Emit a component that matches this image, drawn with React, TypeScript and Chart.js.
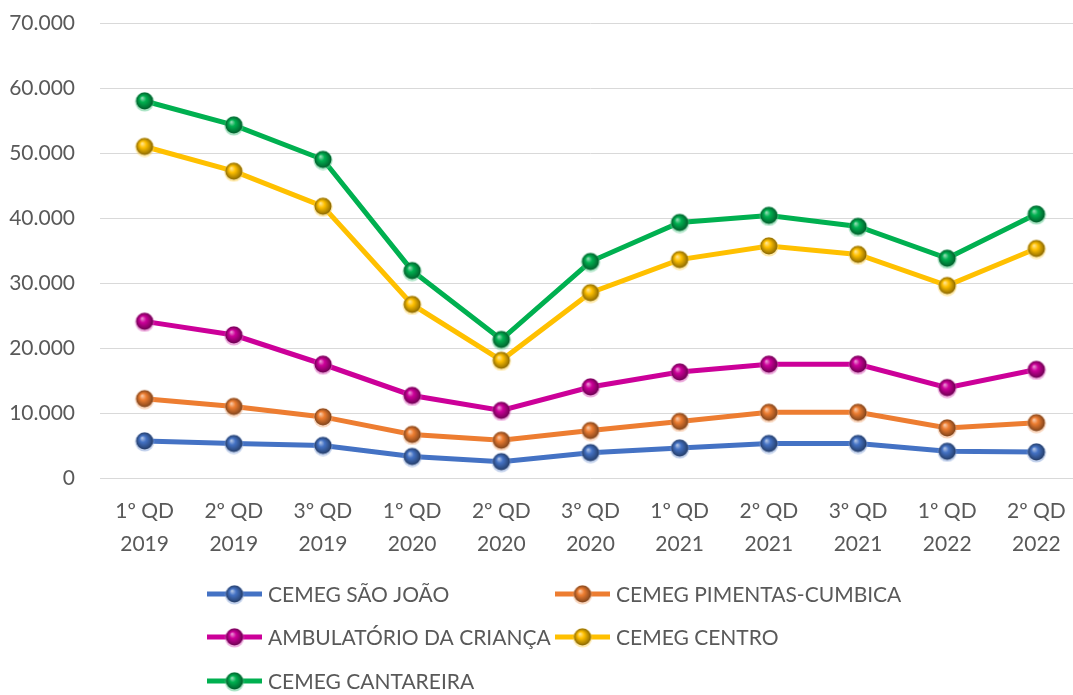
import React, { useEffect, useRef } from "react";
import { Chart, registerables } from "chart.js";

Chart.register(...registerables);

const categories: string[][] = [
  ["1º QD", "2019"], ["2º QD", "2019"], ["3º QD", "2019"],
  ["1º QD", "2020"], ["2º QD", "2020"], ["3º QD", "2020"],
  ["1º QD", "2021"], ["2º QD", "2021"], ["3º QD", "2021"],
  ["1º QD", "2022"], ["2º QD", "2022"],
];

const saoJoao = [5700, 5300, 5000, 3300, 2500, 3900, 4600, 5300, 5300, 4100, 4000];
const pimentas = [12200, 11000, 9400, 6700, 5800, 7300, 8700, 10100, 10100, 7700, 8500];
const ambulatorio = [24100, 22000, 17500, 12700, 10400, 14000, 16300, 17500, 17500, 13900, 16700];
const centro = [51000, 47200, 41800, 26700, 18100, 28500, 33600, 35700, 34400, 29600, 35300];
const cantareira = [58000, 54300, 49000, 31900, 21300, 33300, 39300, 40400, 38700, 33800, 40600];

const seriesNames = [
  "CEMEG SÃO JOÃO",
  "CEMEG PIMENTAS-CUMBICA",
  "AMBULATÓRIO DA CRIANÇA",
  "CEMEG CENTRO",
  "CEMEG CANTAREIRA",
];
const seriesColors = ["#4472C4", "#ED7D31", "#CC0099", "#FFC000", "#00B050"];
const seriesData = [saoJoao, pimentas, ambulatorio, centro, cantareira];

const yTicks = [0, 10000, 20000, 30000, 40000, 50000, 60000, 70000];

const FONT = "Lato, 'Open Sans', sans-serif";
const TEXT = "#595959";

function shade(hex: string, f: number): string {
  const n = parseInt(hex.slice(1), 16);
  let r = (n >> 16) & 255, g = (n >> 8) & 255, b = n & 255;
  if (f >= 0) {
    r = Math.round(r + (255 - r) * f); g = Math.round(g + (255 - g) * f); b = Math.round(b + (255 - b) * f);
  } else {
    r = Math.round(r * (1 + f)); g = Math.round(g * (1 + f)); b = Math.round(b * (1 + f));
  }
  return `rgb(${r},${g},${b})`;
}

function makeBall(color: string): HTMLCanvasElement {
  const c = document.createElement("canvas");
  c.width = 22; c.height = 22;
  const g = c.getContext("2d")!;
  const cx = 11, cy = 11, r = 8.5;
  g.beginPath();
  g.arc(cx, cy + 0.8, r + 1.2, 0, Math.PI * 2);
  g.fillStyle = shade(color, 0.35);
  g.globalAlpha = 0.5;
  g.fill();
  g.globalAlpha = 1;
  const grad = g.createRadialGradient(cx - 2.5, cy - 3, 0.5, cx, cy, r);
  grad.addColorStop(0, shade(color, 0.55));
  grad.addColorStop(0.35, color);
  grad.addColorStop(0.85, shade(color, -0.35));
  grad.addColorStop(1, shade(color, -0.5));
  g.beginPath();
  g.arc(cx, cy, r, 0, Math.PI * 2);
  g.fillStyle = grad;
  g.fill();
  return c;
}

export default function App() {
  const ref = useRef<HTMLCanvasElement>(null);

  useEffect(() => {
    const canvas = ref.current!;
    const balls = seriesColors.map(makeBall);

    const legendPlugin = {
      id: "gridLegend",
      afterDraw(chart: any) {
        const ctx = chart.ctx as CanvasRenderingContext2D;
        const colX = [207, 555];
        const rowY = [594, 637, 681];
        ctx.save();
        ctx.font = `21px ${FONT}`;
        ctx.fillStyle = TEXT;
        ctx.textBaseline = "middle";
        seriesNames.forEach((name, i) => {
          const x = colX[i % 2];
          const y = rowY[Math.floor(i / 2)];
          ctx.beginPath();
          ctx.moveTo(x, y);
          ctx.lineTo(x + 55, y);
          ctx.strokeStyle = seriesColors[i];
          ctx.lineWidth = 5;
          ctx.stroke();
          const b = balls[i];
          ctx.drawImage(b, x + 27.5 - b.width / 2, y - b.height / 2);
          ctx.fillStyle = TEXT;
          ctx.fillText(name, x + 61, y + 1);
        });
        ctx.restore();
      },
    };

    const chart = new Chart(canvas, {
      type: "line",
      data: {
        labels: categories,
        datasets: seriesNames.map((name, i) => ({
          label: name,
          data: seriesData[i],
          borderColor: seriesColors[i],
          backgroundColor: seriesColors[i],
          borderWidth: 5,
          pointStyle: balls[i] as any,
          pointRadius: 9,
          tension: 0,
        })),
      },
      options: {
        responsive: false,
        animation: false,
        devicePixelRatio: 1,
        layout: { padding: { left: 8, right: 12, top: 23, bottom: 137 } },
        plugins: { legend: { display: false }, tooltip: { enabled: false } },
        scales: {
          x: {
            offset: true,
            grid: { display: false, drawTicks: false },
            border: { display: false },
            ticks: {
              color: TEXT,
              font: { family: FONT, size: 21, lineHeight: 1.55 },
              padding: 17,
              maxRotation: 0,
              autoSkip: false,
            },
            afterFit: (s: any) => { s.height = 80; s.paddingLeft = 0; s.paddingRight = 0; },
          },
          y: {
            min: 0,
            max: 70000,
            afterBuildTicks: (s: any) => { s.ticks = yTicks.map((v) => ({ value: v })); },
            grid: { color: "#d9d9d9", lineWidth: 1, drawTicks: false },
            border: { display: false },
            ticks: {
              color: TEXT,
              font: { family: FONT, size: 21 },
              padding: 25,
              callback: (v: any) => (v === 0 ? "0" : `${Number(v) / 1000}.000`),
            },
            afterFit: (s: any) => { s.width = 92; s.paddingTop = 0; s.paddingBottom = 0; },
          },
        },
      },
      plugins: [legendPlugin],
    });
    return () => chart.destroy();
  }, []);

  return (
    <div style={{ position: "absolute", left: 0, top: 0, width: 1073, height: 695, overflow: "hidden", background: "#fff" }}>
      <canvas ref={ref} width={1095} height={695} style={{ width: 1095, height: 695, display: "block" }} />
    </div>
  );
}
